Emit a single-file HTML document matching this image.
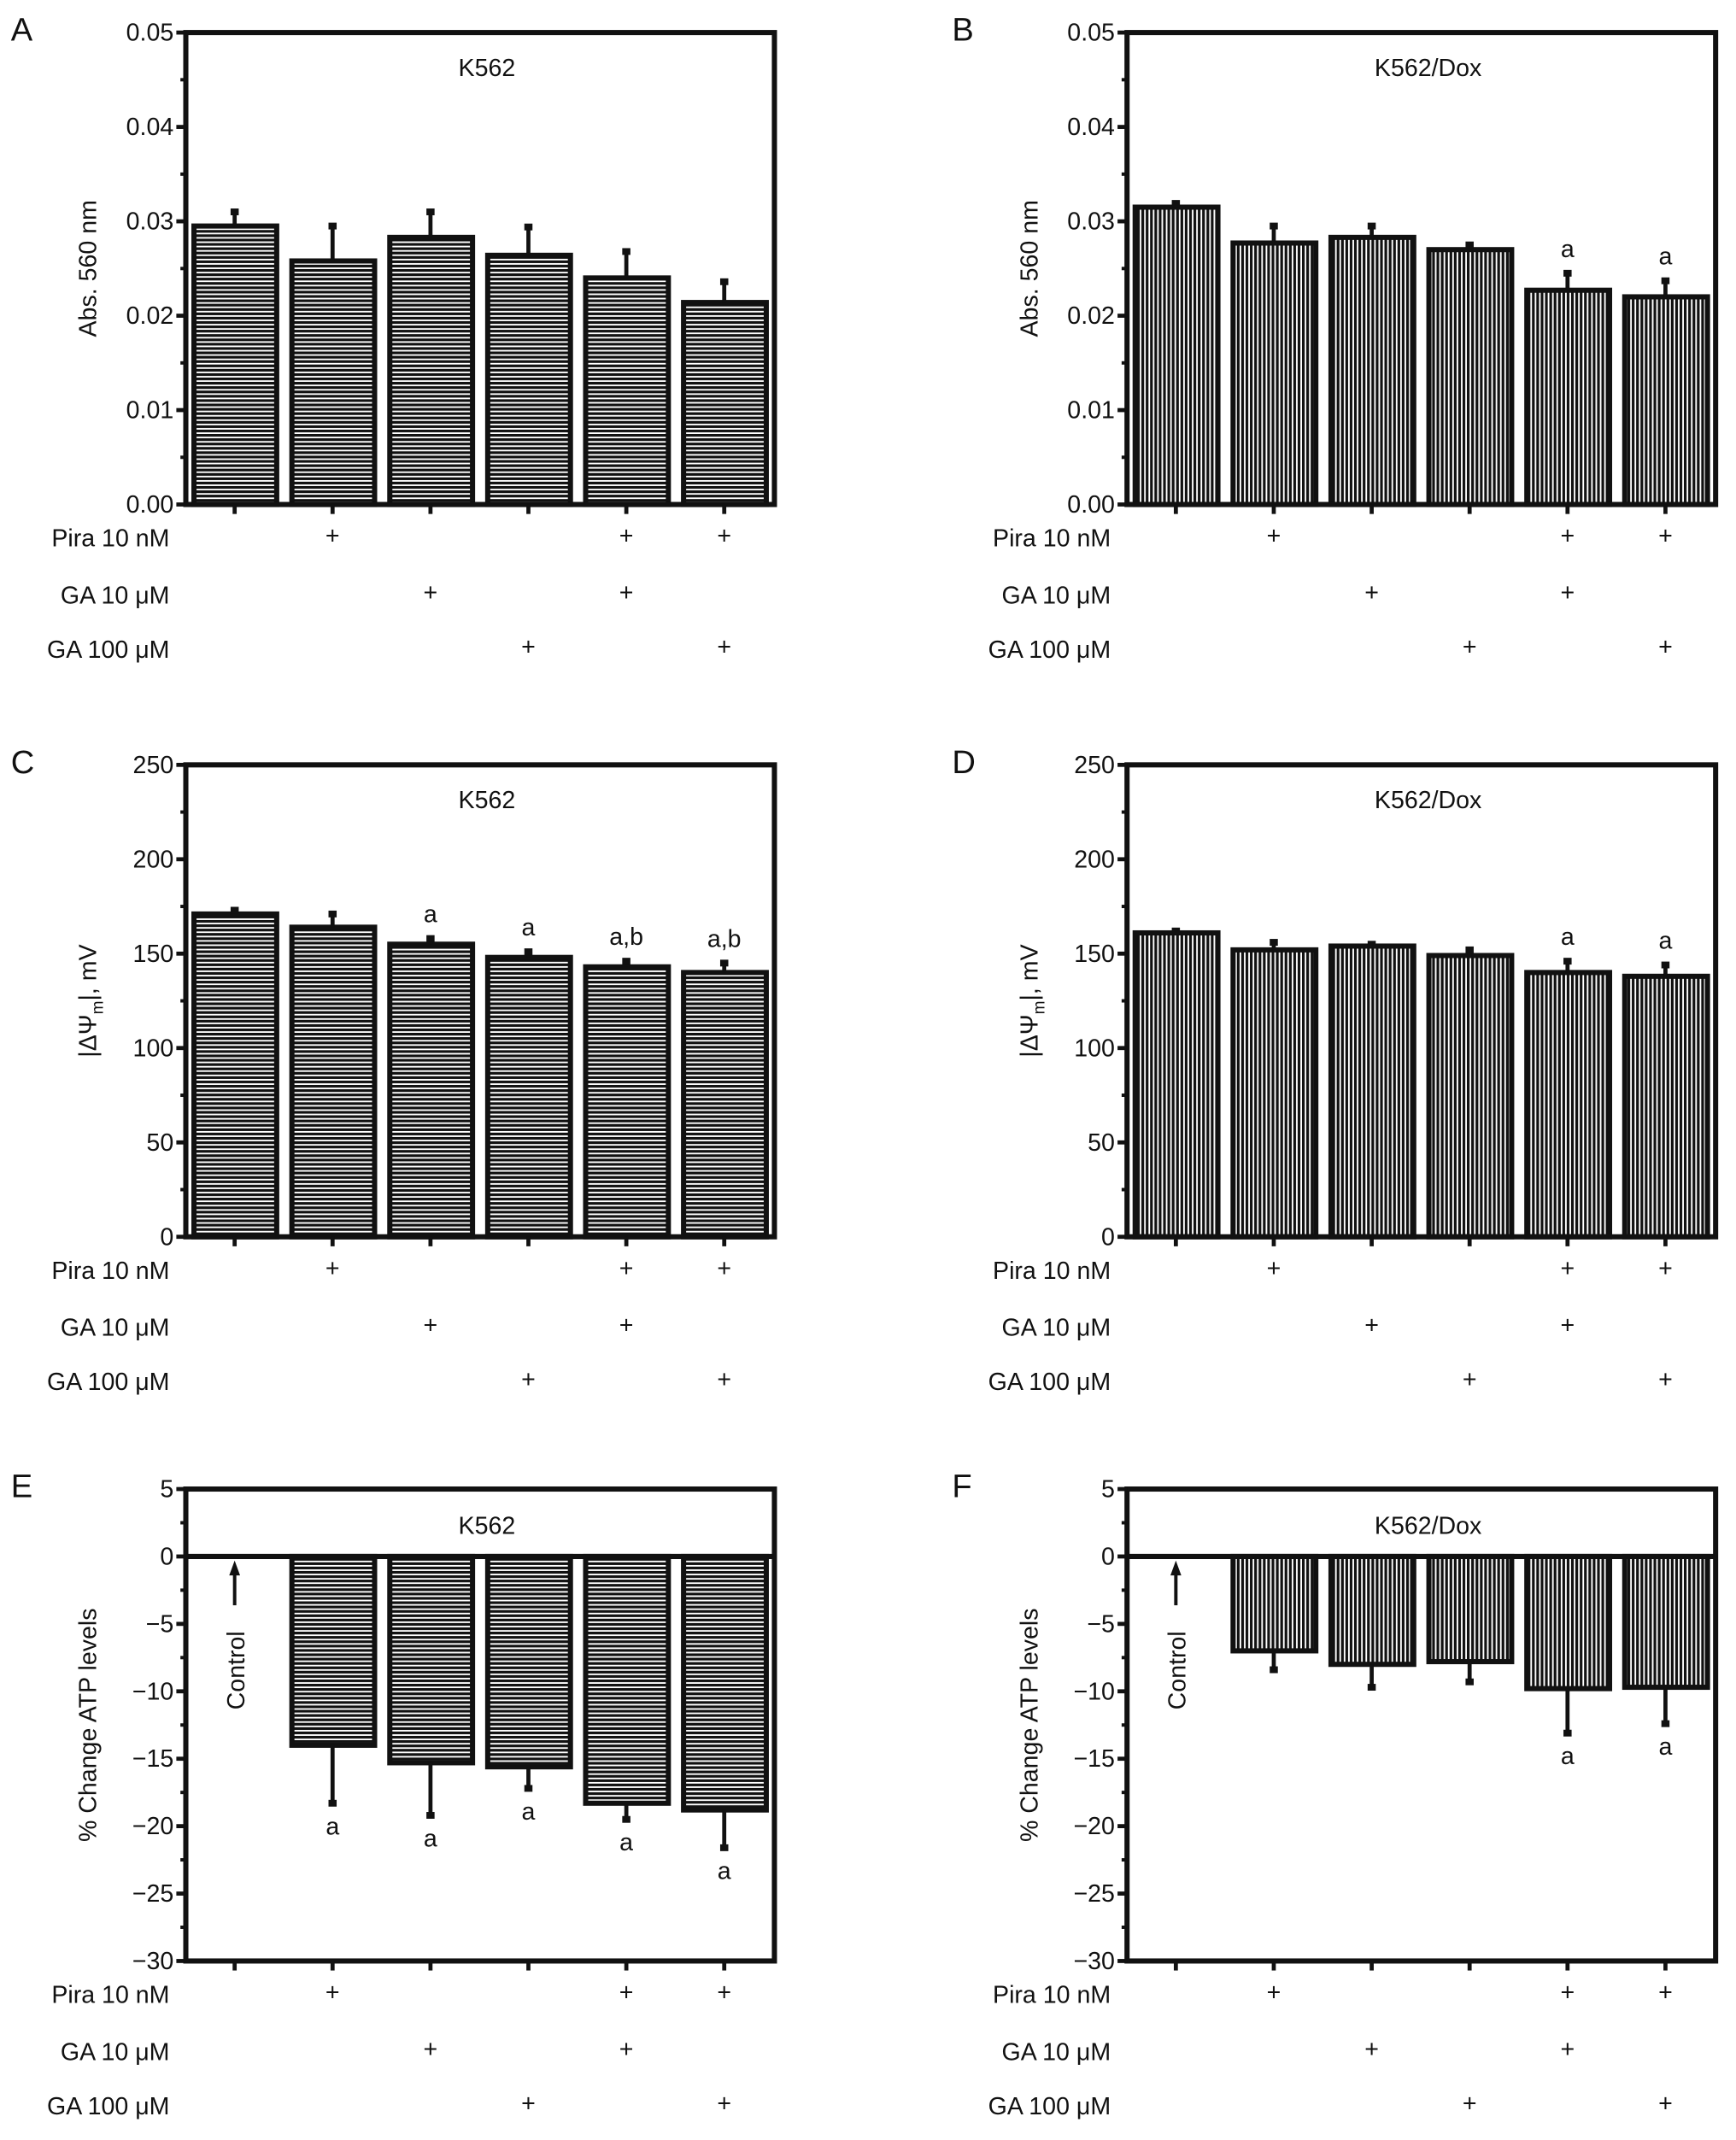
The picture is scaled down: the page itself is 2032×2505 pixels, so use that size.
<!DOCTYPE html>
<html><head><meta charset="utf-8">
<style>
html,body{margin:0;padding:0;background:#fff;}
svg{display:block;}
text{font-family:"Liberation Sans",Arial,sans-serif;fill:#111;}
</style></head>
<body>
<svg id="fig" width="2032" height="2505" viewBox="0 0 1280 1578" xmlns="http://www.w3.org/2000/svg">
<defs>
<pattern id="hstripe" width="8" height="3.2" patternUnits="userSpaceOnUse">
<rect width="8" height="3.2" fill="#fff"/><rect width="8" height="2.0" fill="#111"/>
</pattern>
<pattern id="vstripe" width="3.2" height="8" patternUnits="userSpaceOnUse">
<rect width="3.2" height="8" fill="#fff"/><rect width="2.0" height="8" fill="#111"/>
</pattern>
</defs>
</svg>
<script>
// Panel data
const categories = ["Control","Pira","GA10","GA100","Pira+GA10","Pira+GA100"];
const pira = [0,1,0,0,1,1];
const ga10 = [0,0,1,0,1,0];
const ga100 = [0,0,0,1,0,1];
const valsA = [0.0295,0.0258,0.0283,0.0264,0.0240,0.0214];
const errA  = [0.0310,0.0295,0.0310,0.0294,0.0268,0.0236];
const sigA  = ["","","","","",""];
const valsB = [0.0315,0.0277,0.0283,0.0270,0.0227,0.0220];
const errB  = [0.0319,0.0295,0.0295,0.0275,0.0245,0.0237];
const sigB  = ["","","","","a","a"];
const valsC = [171,164,155,148,143,140];
const errC  = [173,171,158,151,146,145];
const sigC  = ["","","a","a","a,b","a,b"];
const valsD = [161,152,154,149,140,138];
const errD  = [162,156,155,152,146,144];
const sigD  = ["","","","","a","a"];
const valsE = [null,-14.0,-15.3,-15.6,-18.3,-18.8];
const errE  = [null,-18.3,-19.2,-17.2,-19.5,-21.6];
const sigE  = ["","a","a","a","a","a"];
const valsF = [null,-7.0,-8.0,-7.8,-9.8,-9.7];
const errF  = [null,-8.4,-9.7,-9.3,-13.1,-12.4];
const sigF  = ["","","","","a","a"];
const ticksAB = ["0.00","0.01","0.02","0.03","0.04","0.05"];
const ticksCD = ["0","50","100","150","200","250"];
const ticksEF = ["\u221230","\u221225","\u221220","\u221215","\u221210","\u22125","0","5"];

const NS="http://www.w3.org/2000/svg";
const svg=document.getElementById('fig');
function mk(tag,attrs,parent){const e=document.createElementNS(NS,tag);for(const k in attrs)e.setAttribute(k,attrs[k]);(parent||svg).appendChild(e);return e;}
const FS=18;
function panel(p){
  const g=mk('g',{});
  
  
  const W=434,H=348;
  const L=p.left,R=p.left+W,T=p.top,B=p.top+H;
  const ymin=parseFloat(p.ticks[0].replace('\u2212','-')),ymax=parseFloat(p.ticks[p.ticks.length-1].replace('\u2212','-'));
  const y=v=>B-(v-ymin)/(ymax-ymin)*(B-T);
  const x=i=>L+36+72.2*i;
  const base=Math.max(ymin,Math.min(0,ymax));
  const lt=mk('text',{x:L-129,y:T+6,'font-size':24},g);lt.textContent=p.letter;
  
  
  for(let i=0;i<p.vals.length;i++){
    const v=p.vals[i]; if(v===null) continue;
    const y0=y(base),y1=y(v);
    const r=mk('rect',{x:x(i)-30,y:Math.min(y0,y1),width:61,height:Math.abs(y1-y0),fill:'url(#'+p.pat+')',stroke:'#111','stroke-width':3.8},g);
    
    
    const e=p.err[i], ye=y(e);
    const eb=mk('line',{x1:x(i),x2:x(i),y1:y1,y2:ye,stroke:'#111','stroke-width':3},g);
    
    
    mk('rect',{x:x(i)-3,y:ye-2.5,width:6,height:5,fill:'#111'},g);
    if(p.sig[i]){
      const neg=v<0;
      const st=mk('text',{x:x(i),y:neg?ye+23:ye-12,'font-size':FS,'text-anchor':'middle'},g);
      st.textContent=p.sig[i];
      
      
    }
  }
  if(ymin<0){const zl=mk('line',{x1:L,x2:R,y1:y(0),y2:y(0),stroke:'#111','stroke-width':3.8},g);
    }
  const fr=mk('rect',{x:L,y:T,width:W,height:H,fill:'none',stroke:'#111','stroke-width':3.8},g);
  
  
  const n=p.ticks.length;
  for(let k=0;k<n;k++){
    const v=ymin+(ymax-ymin)*k/(n-1), yy=y(v);
    mk('line',{x1:L-7,x2:L,y1:yy,y2:yy,stroke:'#111','stroke-width':3},g);
    const t=mk('text',{x:L-9,y:yy+6,'font-size':FS,'text-anchor':'end'},g);
    t.textContent=p.ticks[k];
    
    
    if(k<n-1){const ym=y(v+(ymax-ymin)/(n-1)/2);mk('line',{x1:L-4,x2:L,y1:ym,y2:ym,stroke:'#111','stroke-width':2.5},g);}
  }
  for(let i=0;i<6;i++) mk('line',{x1:x(i),x2:x(i),y1:B,y2:B+7,stroke:'#111','stroke-width':3},g);
  const yt=mk('text',{x:0,y:0,'font-size':FS,'text-anchor':'middle',transform:'translate('+(L-66)+','+((T+B)/2)+') rotate(-90)'},g);
  
  
  if(p.ylabel==='psi'){
    yt.innerHTML='|\u0394\u03A8<tspan font-size="12" dy="5">m</tspan><tspan dy="-5">|, mV</tspan>';
  } else yt.textContent=p.ylabel;
  const tt=mk('text',{x:L+222,y:T+(ymin<0?33:32),'font-size':FS,'text-anchor':'middle'},g);
  tt.textContent=p.title;
  
  
  if(ymin<0){
    const cx=x(0);
    mk('line',{x1:cx,x2:cx,y1:y(0)+36,y2:y(0)+10,stroke:'#111','stroke-width':2.5},g);
    mk('polygon',{points:(cx-4)+','+(y(0)+14)+' '+(cx+4)+','+(y(0)+14)+' '+cx+','+(y(0)+3),fill:'#111'},g);
    const ct=mk('text',{x:0,y:0,'font-size':FS,'text-anchor':'middle',transform:'translate('+(cx+7)+','+(y(0)+84)+') rotate(-90)'},g);
    ct.textContent='Control';
    
    
  }
  const rows=[['Pira 10 nM',pira,22],['GA 10 \u03BCM',ga10,64],['GA 100 \u03BCM',ga100,104]];
  rows.forEach(rw=>{
    const rl=mk('text',{x:L-12,y:B+rw[2]+9,'font-size':FS,'text-anchor':'end'},g);
    rl.textContent=rw[0];
    
    
    rw[1].forEach((f,i)=>{ if(f){
      const pl=mk('text',{x:x(i),y:B+rw[2]+7,'font-size':FS,'text-anchor':'middle'},g);
      pl.textContent='+';
      
      
    }});
  });
}
panel({letter:'A',left:137,top:24,vals:valsA,err:errA,sig:sigA,ticks:ticksAB,pat:'hstripe',ylabel:'Abs. 560 nm',title:'K562'});
panel({letter:'B',left:831,top:24,vals:valsB,err:errB,sig:sigB,ticks:ticksAB,pat:'vstripe',ylabel:'Abs. 560 nm',title:'K562/Dox'});
panel({letter:'C',left:137,top:564,vals:valsC,err:errC,sig:sigC,ticks:ticksCD,pat:'hstripe',ylabel:'psi',title:'K562'});
panel({letter:'D',left:831,top:564,vals:valsD,err:errD,sig:sigD,ticks:ticksCD,pat:'vstripe',ylabel:'psi',title:'K562/Dox'});
panel({letter:'E',left:137,top:1098,vals:valsE,err:errE,sig:sigE,ticks:ticksEF,pat:'hstripe',ylabel:'% Change ATP levels',title:'K562'});
panel({letter:'F',left:831,top:1098,vals:valsF,err:errF,sig:sigF,ticks:ticksEF,pat:'vstripe',ylabel:'% Change ATP levels',title:'K562/Dox'});
</script>
</body></html>
